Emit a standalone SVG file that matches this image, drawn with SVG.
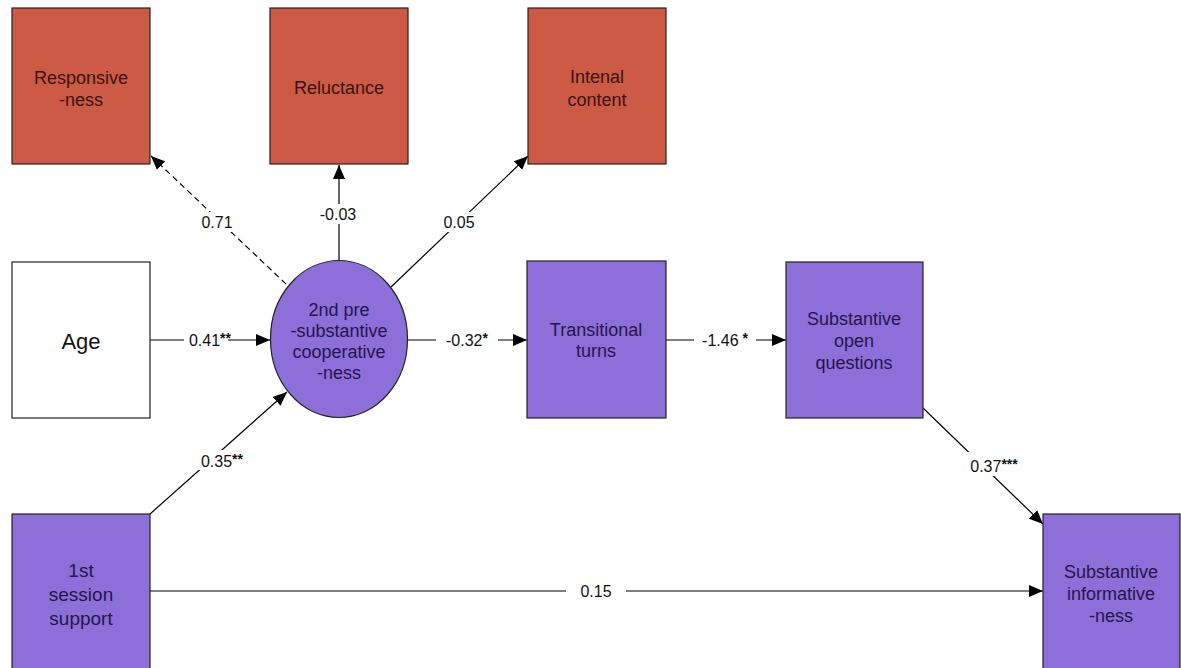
<svg xmlns="http://www.w3.org/2000/svg" width="1181" height="668" viewBox="0 0 1181 668">
<defs>
<marker id="arr" markerUnits="userSpaceOnUse" markerWidth="14" markerHeight="12" viewBox="0 0 14 12" refX="14" refY="6" orient="auto">
<path d="M0,0 L14,6 L0,12 Z" fill="#000"/>
</marker>
<style>
.red{fill:#CD5A45;stroke:#222;stroke-width:1.2}
.pur{fill:#8D6FDA;stroke:#222;stroke-width:1.2}
.wht{fill:#fff;stroke:#222;stroke-width:1.2}
.nt{font-family:"Liberation Sans",Arial,sans-serif;font-size:18px;text-anchor:middle}
.rt{fill:#3a1212}
.pt{fill:#24164a}
.el{stroke:#000;stroke-width:1.2;fill:none}
.lb{font-family:"Liberation Sans",Arial,sans-serif;font-size:16px;text-anchor:middle;fill:#111}
.st{font-size:14px;font-weight:bold}
.bg{fill:#fff}
</style>
</defs>
<rect width="1181" height="668" fill="#fff"/>
<g id="connectors">
<line class="el" x1="150" y1="340" x2="270" y2="340" marker-end="url(#arr)"/>
<line class="el" x1="150" y1="514" x2="287" y2="392" marker-end="url(#arr)"/>
<line class="el" x1="286" y1="284" x2="151" y2="156" stroke-dasharray="6,4" marker-end="url(#arr)"/>
<line class="el" x1="339" y1="260" x2="339" y2="165" marker-end="url(#arr)"/>
<line class="el" x1="391" y1="287" x2="528" y2="156" marker-end="url(#arr)"/>
<line class="el" x1="408" y1="340" x2="527" y2="340" marker-end="url(#arr)"/>
<line class="el" x1="666" y1="340" x2="786" y2="340" marker-end="url(#arr)"/>
<line class="el" x1="923" y1="408" x2="1043" y2="524" marker-end="url(#arr)"/>
<line class="el" x1="150" y1="591" x2="1043" y2="591" marker-end="url(#arr)"/>
<rect class="bg" x="184" y="330" width="44" height="20"/>
<text class="lb" x="210" y="346">0.41<tspan class="st" dy="-3">**</tspan></text>
<rect class="bg" x="192" y="450" width="60" height="20"/>
<text class="lb" x="222" y="467">0.35<tspan class="st" dy="-3">**</tspan></text>
<rect class="bg" x="199" y="212" width="36" height="20"/>
<text class="lb" x="217" y="228">0.71</text>
<rect class="bg" x="318" y="204" width="42" height="20"/>
<text class="lb" x="338" y="220">-0.03</text>
<rect class="bg" x="441" y="212" width="36" height="20"/>
<text class="lb" x="459" y="228">0.05</text>
<rect class="bg" x="436" y="330" width="62" height="20"/>
<text class="lb" x="467" y="346">-0.32<tspan class="st" dy="-3">*</tspan></text>
<rect class="bg" x="694" y="330" width="62" height="20"/>
<text class="lb" x="725" y="346">-1.46<tspan class="st" dy="-3"> *</tspan></text>
<rect class="bg" x="962" y="452" width="68" height="24"/>
<text class="lb" x="994" y="472">0.37<tspan class="st" dy="-3">***</tspan></text>
<rect class="bg" x="566" y="581" width="60" height="20"/>
<text class="lb" x="596" y="597">0.15</text>
</g>
<g id="responsiveness">
<rect class="red" x="12" y="8" width="138" height="156"/>
<text class="nt rt" x="81" y="84">Responsive</text>
<text class="nt rt" x="81" y="106">-ness</text>
</g>
<g id="reluctance">
<rect class="red" x="270" y="8" width="138" height="156"/>
<text class="nt rt" x="339" y="94">Reluctance</text>
</g>
<g id="intenal-content">
<rect class="red" x="528" y="8" width="138" height="156"/>
<text class="nt rt" x="597" y="83">Intenal</text>
<text class="nt rt" x="597" y="106">content</text>
</g>
<g id="age">
<rect class="wht" x="12" y="262" width="138" height="156"/>
<text class="nt" x="81" y="349" style="font-size:22px;fill:#111">Age</text>
</g>
<g id="cooperativeness">
<ellipse class="pur" cx="339" cy="339" rx="68.5" ry="78.5"/>
<text class="nt pt" x="339" y="316">2nd pre</text>
<text class="nt pt" x="339" y="337">-substantive</text>
<text class="nt pt" x="339" y="358">cooperative</text>
<text class="nt pt" x="339" y="379">-ness</text>
</g>
<g id="transitional-turns">
<rect class="pur" x="527" y="261" width="139" height="157"/>
<text class="nt pt" x="596" y="336">Transitional</text>
<text class="nt pt" x="596" y="357">turns</text>
</g>
<g id="open-questions">
<rect class="pur" x="786" y="262" width="137" height="156"/>
<text class="nt pt" x="854" y="325">Substantive</text>
<text class="nt pt" x="854" y="347">open</text>
<text class="nt pt" x="854" y="369">questions</text>
</g>
<g id="first-session-support">
<rect class="pur" x="12" y="514" width="138" height="160"/>
<text class="nt pt" x="81" y="577" style="font-size:19px">1st</text>
<text class="nt pt" x="81" y="601" style="font-size:19px">session</text>
<text class="nt pt" x="81" y="625" style="font-size:19px">support</text>
</g>
<g id="informativeness">
<rect class="pur" x="1043" y="514" width="137" height="160"/>
<text class="nt pt" x="1111" y="578">Substantive</text>
<text class="nt pt" x="1111" y="600">informative</text>
<text class="nt pt" x="1111" y="622">-ness</text>
</g>
</svg>
